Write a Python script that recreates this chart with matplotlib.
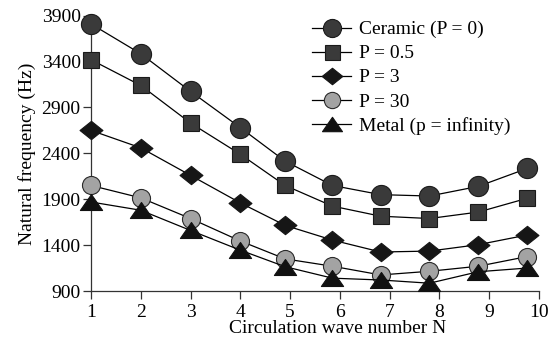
import matplotlib.pyplot as plt
from matplotlib.path import Path

plt.rcParams["font.family"] = ["Liberation Serif", "DejaVu Serif"]
plt.rcParams["font.size"] = 14

# circulation wave number positions as plotted
N = [1, 2, 3, 4, 4.9, 5.85, 6.82, 7.8, 8.78, 9.76]

ceramic = [3810, 3485, 3075, 2680, 2315, 2050, 1950, 1935, 2040, 2235]
p_05 = [3420, 3140, 2730, 2390, 2050, 1825, 1715, 1690, 1760, 1910]
p_3 = [2650, 2460, 2160, 1860, 1615, 1455, 1325, 1335, 1405, 1510]
p_30 = [2050, 1915, 1690, 1445, 1250, 1170, 1075, 1115, 1170, 1275]
metal = [1870, 1780, 1560, 1345, 1165, 1040, 1020, 985, 1110, 1150]

labels = ["Ceramic (P = 0)", "P = 0.5", "P = 3", "P = 30",
          "Metal (p = infinity)"]
yticks = [900, 1400, 1900, 2400, 2900, 3400, 3900]
xticks = list(range(1, 11))

# wide diamond and wide triangle markers
diamond = Path([(-1, 0), (0, 0.8), (1, 0), (0, -0.8), (-1, 0)],
               [Path.MOVETO, Path.LINETO, Path.LINETO, Path.LINETO,
                Path.CLOSEPOLY])
triangle = Path([(-1, -0.72), (1, -0.72), (0, 0.72), (-1, -0.72)],
                [Path.MOVETO, Path.LINETO, Path.LINETO, Path.CLOSEPOLY])

styles = [
    dict(marker="o", ms=14.5, mfc="#3a3a3a", mec="#1a1a1a"),
    dict(marker="s", ms=12, mfc="#3a3a3a", mec="#1a1a1a"),
    dict(marker=diamond, ms=16.5, mfc="#161616", mec="#161616"),
    dict(marker="o", ms=13, mfc="#a3a3a3", mec="#2a2a2a"),
    dict(marker=triangle, ms=16, mfc="#111111", mec="#111111"),
]

fig = plt.figure(figsize=(5.56, 3.45), dpi=100)
ax = fig.add_axes([0.1637, 0.1565, 0.8057, 0.798])

for y, lab, st in zip([ceramic, p_05, p_3, p_30, metal], labels, styles):
    ax.plot(N, y, color="black", lw=0.9, label=lab, clip_on=False,
            mew=0.8, zorder=3, **st)

ax.set_xlim(1, 10)
ax.set_ylim(900, 3900)
ax.set_xticks(xticks)
ax.set_yticks(yticks)
ax.spines["top"].set_visible(False)
ax.spines["right"].set_visible(False)
for s in ("left", "bottom"):
    ax.spines[s].set_color("#333333")
    ax.spines[s].set_linewidth(0.9)
ax.tick_params(direction="out", length=5.5, width=0.9, color="#333333",
               labelsize=14)
ax.tick_params(axis="x", pad=3.5)
ax.tick_params(axis="y", pad=2)

ax.set_xlabel("Circulation wave number N", fontsize=14)
ax.set_ylabel("Natural frequency (Hz)", fontsize=14, labelpad=4)
ax.xaxis.label.set_va("baseline")
ax.xaxis.set_label_coords(0.551, -0.153)

fig.legend(loc="upper left", bbox_to_anchor=(0.544, 0.968), frameon=False,
           fontsize=14, markerscale=0.9, handlelength=2.0,
           handletextpad=0.4, labelspacing=0.33, borderpad=0)

fig.savefig("out.png", dpi=100)
